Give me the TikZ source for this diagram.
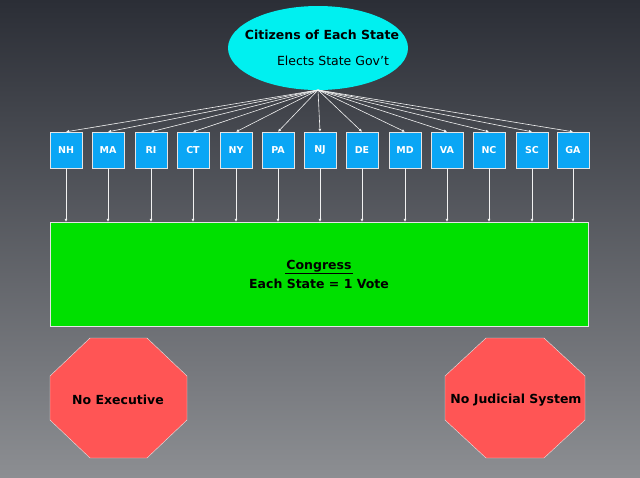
\documentclass[tikz,border=0pt]{standalone}
\usepackage{fontspec}
\setmainfont{DejaVu Sans}
\usetikzlibrary{arrows.meta,shapes.geometric}
\definecolor{bgtop}{HTML}{2B2E36}
\definecolor{bgbot}{HTML}{8C8E92}
\definecolor{stblue}{HTML}{0AA6F5}
\definecolor{octred}{HTML}{FF5555}
\definecolor{cyanell}{HTML}{00F0F0}
\definecolor{grn}{HTML}{00E000}
\tikzset{
  statebox/.style={draw=white!80!gray, fill=stblue, minimum width=32pt, minimum height=36pt, inner sep=0pt, text=white, font=\bfseries\fontsize{9.5}{10}\selectfont},
  conn/.style={draw=white!90!gray, line width=0.6pt, -{Latex[length=3pt,width=3pt]}},
  octo/.style={draw=white!80!gray, fill=octred},
  bigtxt/.style={font=\bfseries\fontsize{12.5}{14}\selectfont}
}
\begin{document}
\begin{tikzpicture}[x=1pt,y=-1pt]
\shade[top color=bgtop, bottom color=bgbot] (0,0) rectangle (640,477);
\useasboundingbox (0,0) rectangle (640,477);
\node[ellipse, fill=cyanell, minimum width=180pt, minimum height=84pt, inner sep=0pt] (cit) at (318,48) {};
\node[bigtxt] (citt) at (322,35) {Citizens of Each State};
\node[font=\fontsize{12.5}{14}\selectfont] (elec) at (333,61) {Elects State Gov’t};
\coordinate (src) at (318,90);
\node[draw=white!80!gray, fill=grn, minimum width=538pt, minimum height=104pt, inner sep=0pt] (cong) at (319,274) {};
\node[bigtxt, inner sep=1pt] (congt) at (319,266) {Congress};
\draw[line width=0.8pt] (congt.south west) -- (congt.south east);
\node[bigtxt] (vote) at (319,284) {Each State = 1 Vote};
\foreach \n/\x in {NH/66,MA/108,RI/151,CT/193,NY/236,PA/278,NJ/320,DE/362,MD/405,VA/447,NC/489,SC/532,GA/573}{
  \node[statebox] (\n) at (\x,150) {\n};
  \draw[conn] (src) -- (\n.north);
  \draw[conn] (\n.south) -- (\n.south |- cong.north);
}
\draw[octo] (90,338) -- (147,338) -- (187,376) -- (187,420) -- (147,458) -- (90,458) -- (50,420) -- (50,376) -- cycle;
\node[bigtxt] (exec) at (118,400) {No Executive};
\draw[octo] (486,338) -- (544,338) -- (585,376) -- (585,420) -- (544,458) -- (486,458) -- (445,420) -- (445,376) -- cycle;
\node[bigtxt] (jud) at (516,400) {No Judicial System};
\end{tikzpicture}
\end{document}
